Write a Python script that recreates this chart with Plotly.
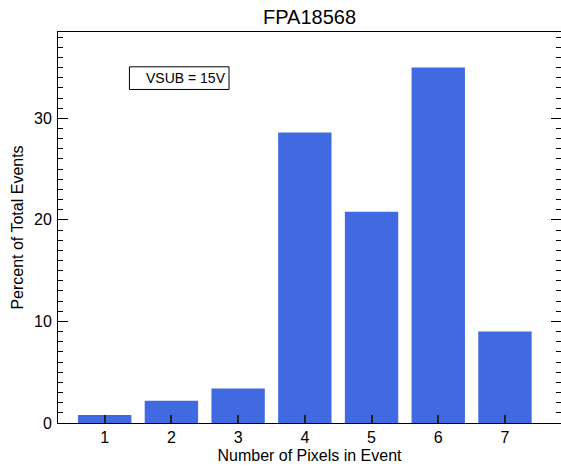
import plotly.graph_objects as go

# Event pixel multiplicity histogram
pixels = [1, 2, 3, 4, 5, 6, 7]
percent = [0.8, 2.2, 3.4, 28.6, 20.8, 35.0, 9.0]
y_ticks = [0, 10, 20, 30]
title_text = "FPA18568"
label_text = "VSUB = 15V"

FONT = "Liberation Sans, Arial, Helvetica, sans-serif"

fig = go.Figure(
    go.Bar(
        x=pixels,
        y=percent,
        width=0.8,
        marker=dict(color="#4169E1", line=dict(width=0)),
    )
)

fig.update_layout(
    width=561,
    height=468,
    margin=dict(l=58, r=0, t=32, b=45),
    paper_bgcolor="white",
    plot_bgcolor="white",
    font=dict(family=FONT, size=16, color="black"),
    showlegend=False,
    title=dict(
        text=title_text,
        x=0.5,
        xref="paper",
        y=1 - 17 / 468,
        yanchor="middle",
        font=dict(size=20, color="black"),
    ),
)

fig.update_xaxes(
    range=[0.3, 7.84],
    tickvals=pixels,
    ticks="inside",
    ticklen=8,
    tickwidth=1.5,
    tickcolor="#222",
    showline=True,
    linecolor="black",
    linewidth=1,
    mirror=True,
    showgrid=False,
    zeroline=False,
    tickfont=dict(size=16),
    title=dict(text="Number of Pixels in Event", font=dict(size=16), standoff=4),
)

fig.update_yaxes(
    range=[0, 38.5],
    tickvals=y_ticks,
    ticks="inside",
    ticklen=10,
    tickwidth=1,
    tickcolor="black",
    minor=dict(dtick=1, ticks="inside", ticklen=5, tickcolor="black", showgrid=False),
    showline=True,
    linecolor="black",
    linewidth=1,
    mirror="ticks",
    showgrid=False,
    zeroline=False,
    tickfont=dict(size=16),
    ticklabelstandoff=2,
    title=dict(text="Percent of Total Events", font=dict(size=16), standoff=6),
)

# Annotation box with the operating condition
fig.add_shape(
    type="rect",
    xref="paper", yref="paper",
    x0=0.142, x1=0.340, y0=0.853, y1=0.911,
    line=dict(color="black", width=1),
    fillcolor="white",
    layer="above",
)
fig.add_annotation(
    text=label_text,
    xref="paper", yref="paper",
    x=0.170, y=0.882,
    xanchor="left", yanchor="middle",
    showarrow=False,
    font=dict(size=14, color="black"),
)

fig.write_html("out.html")
